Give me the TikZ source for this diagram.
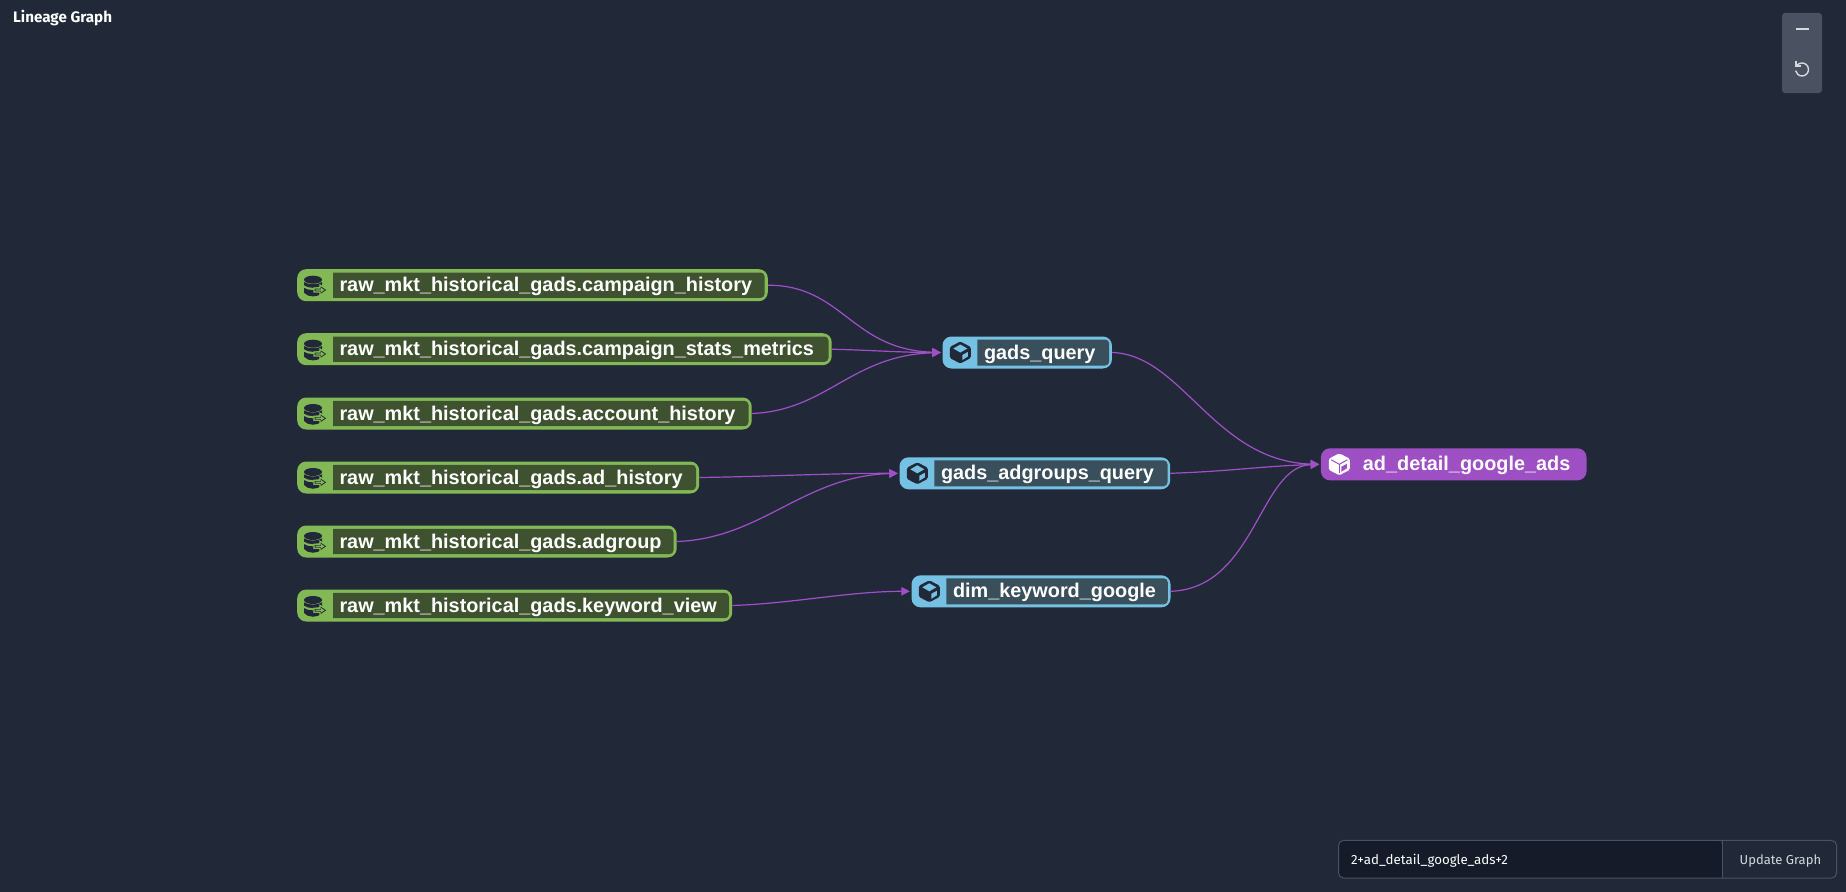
\documentclass[tikz,border=0pt]{standalone}
\usepackage{fontspec}
\setmainfont{Liberation Sans}
\newfontfamily\uifont{Fira Sans}
\usetikzlibrary{arrows.meta}
\definecolor{bgc}{HTML}{212938}
\definecolor{srcfill}{HTML}{83B955}
\definecolor{srcin}{HTML}{3F522F}
\definecolor{modfill}{HTML}{75C1E4}
\definecolor{modin}{HTML}{394F5B}
\definecolor{curfill}{HTML}{9D4FC3}
\definecolor{edgec}{HTML}{A04FC8}
\definecolor{panelc}{HTML}{4A5161}
\definecolor{iconc}{HTML}{D5D8DD}
\definecolor{inputc}{HTML}{151B28}
\definecolor{linec}{HTML}{4A5161}
\tikzset{
  px/.style={x=1pt,y=-1pt},
  outerbox/.style={rectangle,rounded corners=9pt,inner sep=0pt,minimum height=32pt,anchor=west},
  nametext/.style={inner sep=0pt,anchor=base west,text=white,font=\bfseries\fontsize{19.85}{20}\selectfont},
  edge/.style={draw=edgec,line width=1.2pt,-{Triangle[length=8.5pt,width=8.5pt]}},
  uitext/.style={inner sep=0pt,anchor=base west,text=white,font=\uifont\fontsize{13}{13}\selectfont},
}
% cube icon: #1 x, #2 y, #3 body colour, #4 face colour
\newcommand\cubeicon[4]{%
  \begin{scope}[shift={(#1,#2)}]
    \fill[#3,rounded corners=1.5pt] (0,-11) -- (10.5,-5.5) -- (10.5,5.5) -- (0,11) -- (-10.5,5.5) -- (-10.5,-5.5) -- cycle;
    \fill[#4] (0,-8) -- (7,-4) -- (0,0) -- (-7,-4) -- cycle;
    \fill[#4] (2,2.5) -- (7.5,-0.5) -- (7.5,4) -- (2,7.5) -- cycle;
  \end{scope}}
% cube icon on the selected node
\newcommand\curicon[2]{%
  \begin{scope}[shift={(#1,#2)}]
    \fill[white,rounded corners=1.5pt] (0,-11) -- (10.5,-5.5) -- (10.5,5.5) -- (0,11) -- (-10.5,5.5) -- (-10.5,-5.5) -- cycle;
    \draw[curfill,line width=1pt] (-8,-4.5) -- (0,0) -- (8,-4.5);
    \draw[curfill,line width=1pt] (0,0) -- (0,9);
    \fill[curfill] (2,2.5) -- (7.5,-0.5) -- (7.5,4) -- (2,7.5) -- cycle;
  \end{scope}}
% database icon: #1 x of the discs' centre, #2 y
\newcommand\dbicon[2]{%
  \begin{scope}[shift={(#1,#2)}]
    \fill[bgc] (0,-5.5) ellipse [x radius=9,y radius=4];
    \fill[bgc] (-9,-3.2) .. controls (-5,-0.2) and (5,-0.2) .. (9,-3.2) -- (9,0) .. controls (5,3.5) and (-5,3.5) .. (-9,0) -- cycle;
    \fill[bgc] (-9,2.6) .. controls (-5,5.6) and (5,5.6) .. (9,2.6) -- (9,7.5) .. controls (5,12.5) and (-5,12.5) .. (-9,7.5) -- cycle;
    \filldraw[fill=bgc,draw=srcfill,line width=1.2pt] (1,2.8) -- (7,2.8) -- (7,-0.2) -- (14.5,4.8) -- (7,9.8) -- (7,6.8) -- (1,6.8) -- cycle;
    \fill[srcfill] (2.5,4.2) -- (8,4.2) -- (8,2.5) -- (11.5,4.8) -- (8,7.1) -- (8,5.4) -- (2.5,5.4) -- cycle;
  \end{scope}}
% source: #1 name, #2 y centre, #3 right edge, #4 text
\newcommand\srcnode[4]{%
  \node[outerbox,fill=srcfill,minimum width={(#3-297)*1pt}] (#1) at (297,#2) {};
  \fill[srcin] (333,#2-12.7) [rounded corners=4pt] -- (#3-3,#2-12.7) -- (#3-3,#2+12.7) [sharp corners] -- (333,#2+12.7) -- cycle;
  \dbicon{313}{#2}
  \node[nametext] (#1t) at (339.3,#2+6.5) {#4};
}
% model: #1 name, #2 left, #3 right, #4 y centre, #5 text
\newcommand\modnode[5]{%
  \node[outerbox,fill=modfill,minimum width={(#3-#2)*1pt}] (#1) at (#2,#4) {};
  \fill[modin] (#2+35,#4-13) [rounded corners=4pt] -- (#3-2.5,#4-13) -- (#3-2.5,#4+13) [sharp corners] -- (#2+35,#4+13) -- cycle;
  \cubeicon{#2+18}{#4}{bgc}{modfill}
  \node[nametext] (#1t) at (#2+41.5,#4+6.5) {#5};
}
\begin{document}
\begin{tikzpicture}[px]
\useasboundingbox (0,0) rectangle (1846,891);
\fill[bgc] (-3,-3) rectangle (1849,894);

\node[uitext,font=\uifont\bfseries\fontsize{15.2}{16}\selectfont] (title) at (13,23) {Lineage Graph};

\srcnode{s1}{285.2}{767.6}{raw\_mkt\_historical\_gads.campaign\_history}
\srcnode{s2}{349.2}{831.5}{raw\_mkt\_historical\_gads.campaign\_stats\_metrics}
\srcnode{s3}{413.5}{751.5}{raw\_mkt\_historical\_gads.account\_history}
\srcnode{s4}{477.5}{699}{raw\_mkt\_historical\_gads.ad\_history}
\srcnode{s5}{541.5}{676.5}{raw\_mkt\_historical\_gads.adgroup}
\srcnode{s6}{605.5}{732}{raw\_mkt\_historical\_gads.keyword\_view}

\modnode{m1}{942.3}{1111.7}{352.5}{gads\_query}
\modnode{m2}{899.3}{1170}{473.3}{gads\_adgroups\_query}
\modnode{m3}{911.3}{1170.3}{591.3}{dim\_keyword\_google}

\node[outerbox,fill=curfill,minimum width=265.6pt] (cur) at (1320.7,464.3) {};
\curicon{1339.3}{464.3}
\node[nametext] (curt) at (1362.7,470.8) {ad\_detail\_google\_ads};

\path[edge] (s1.east) .. controls +(75,0) and +(-90,-3) .. ([xshift=-1.5pt]m1.west);
\path[edge] (s2.east) .. controls +(40,1) and +(-40,0) .. ([xshift=-1.5pt]m1.west);
\path[edge] (s3.east) .. controls +(75,-3) and +(-90,3) .. ([xshift=-1.5pt]m1.west);
\path[edge] (s4.east) .. controls +(70,-1) and +(-70,0) .. ([xshift=-1.5pt]m2.west);
\path[edge] (s5.east) .. controls +(85,-3) and +(-95,3) .. ([xshift=-1.5pt]m2.west);
\path[edge] (s6.east) .. controls +(60,-2) and +(-60,0) .. ([xshift=-1.5pt]m3.west);
\path[edge] (m1.east) .. controls +(70,2) and +(-105,-3) .. ([xshift=-1.5pt]cur.west);
\path[edge] (m2.east) .. controls +(60,-2) and +(-60,2) .. ([xshift=-1.5pt]cur.west);
\path[edge] (m3.east) .. controls +(85,-3) and +(-60,2) .. ([xshift=-1.5pt]cur.west);

% zoom panel
\fill[panelc,rounded corners=3pt] (1782,13) rectangle (1822,93);
\draw[iconc,line width=1.5pt] (1795.7,29) -- (1808.7,29);
\draw[iconc,line width=1.4pt] (1797,65.3) arc [start angle=-140,end angle=170,radius=6.5];
\draw[iconc,line width=1.4pt] (1796,61.5) -- (1796,66) -- (1800.5,66);

% input
\fill[inputc,rounded corners=5pt] (1338.5,840.4) -- (1722,840.4) [sharp corners] -- (1722,878) [rounded corners=5pt] -- (1338.5,878) -- cycle;
\draw[linec,line width=1pt,rounded corners=5pt] (1338.5,840.4) rectangle (1836.5,878);
\draw[linec,line width=1pt] (1722,840.4) -- (1722,878);
\node[uitext,font=\uifont\fontsize{13.3}{14}\selectfont] (query) at (1351,864) {2+ad\_detail\_google\_ads+2};
\node[uitext,text=iconc] (update) at (1739.5,864) {Update Graph};
\end{tikzpicture}
\end{document}
